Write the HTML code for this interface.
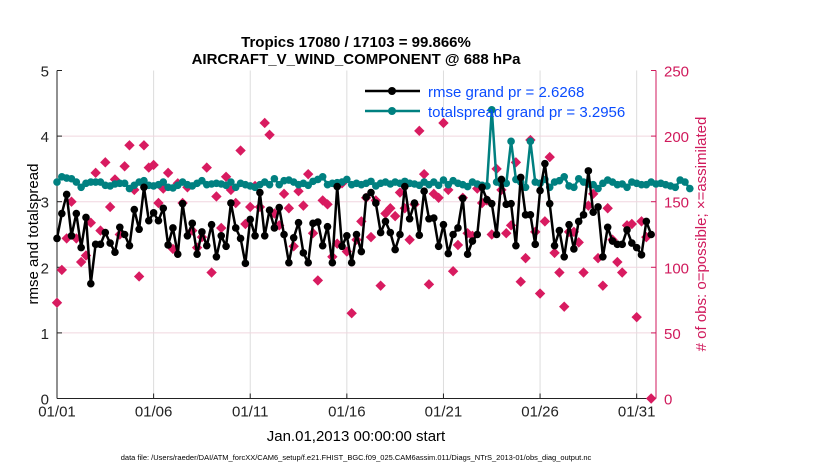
<!DOCTYPE html>
<html><head><meta charset="utf-8"><style>
body{margin:0;background:#fff;}
svg{display:block;font-family:"Liberation Sans",sans-serif;}
</style></head><body>
<svg id="chart" width="830" height="470" viewBox="0 0 830 470">
<rect width="830" height="470" fill="#fff"/>
<text x="356" y="47" text-anchor="middle" font-size="15" font-weight="bold">Tropics 17080 / 17103 = 99.866%</text>
<text x="356" y="64" text-anchor="middle" font-size="15" font-weight="bold">AIRCRAFT_V_WIND_COMPONENT @ 688 hPa</text>
<g id="grid"></g>
<g id="axes"></g>
<g id="marks"></g>
<g id="legend">
 <line x1="365" y1="91" x2="420" y2="91" stroke="#000" stroke-width="2.5"/>
 <circle cx="392" cy="91" r="4" fill="#000"/>
 <text x="428" y="97" font-size="15" fill="#0a4cff">rmse grand pr = 2.6268</text>
 <line x1="365" y1="111" x2="420" y2="111" stroke="#008080" stroke-width="2.5"/>
 <circle cx="392" cy="111" r="4" fill="#008080"/>
 <text x="428" y="117" font-size="15" fill="#0a4cff">totalspread grand pr = 3.2956</text>
</g>
<text transform="translate(38,234) rotate(-90)" text-anchor="middle" font-size="15">rmse and totalspread</text>
<text transform="translate(706,234) rotate(-90)" text-anchor="middle" font-size="15" fill="#d01a5c"># of obs: o=possible; ×=assimilated</text>
<text x="356" y="441" text-anchor="middle" font-size="15">Jan.01,2013 00:00:00 start</text>
<text x="356" y="460" text-anchor="middle" font-size="7.5">data file: /Users/raeder/DAI/ATM_forcXX/CAM6_setup/f.e21.FHIST_BGC.f09_025.CAM6assim.011/Diags_NTrS_2013-01/obs_diag_output.nc</text>
</svg>
<script>
const rmse=[2.44,2.82,3.11,2.48,2.82,2.3,2.76,1.75,2.35,2.35,2.53,2.37,2.23,2.61,2.5,2.33,2.88,2.58,3.22,2.71,2.83,2.71,2.9,2.34,2.6,2.2,2.97,2.48,2.67,2.2,2.54,2.33,
2.65,2.16,2.48,2.32,2.98,2.6,2.44,2.06,2.73,2.48,3.14,2.48,2.87,2.6,2.91,2.5,2.07,2.45,2.68,2.22,2.07,2.67,2.69,2.33,2.62,2.07,3.23,2.32,2.48,2.07,2.5,
2.24,3.07,3.14,2.98,2.53,2.7,2.53,2.27,2.5,3.23,2.74,2.98,2.49,3.16,2.74,2.75,2.32,2.65,2.21,2.5,2.6,3.05,2.2,2.4,2.5,3.22,3.03,2.97,2.5,3.34,2.96,
2.97,2.33,3.37,2.8,2.8,2.35,3.17,3.58,2.97,2.33,2.56,2.16,2.65,2.28,2.7,2.8,3.47,2.84,2.92,2.16,2.61,2.4,2.35,2.35,2.57,2.37,2.3,2.19,2.7,2.5];
const spread=[3.3,3.38,3.36,3.35,3.3,3.22,3.28,3.3,3.3,3.3,3.25,3.24,3.27,3.28,3.28,3.2,3.25,3.3,3.32,3.25,3.24,3.26,3.3,3.22,3.21,3.25,3.3,3.26,3.24,3.28,3.32,3.26,
3.27,3.28,3.27,3.25,3.3,3.22,3.28,3.26,3.24,3.22,3.26,3.3,3.26,3.35,3.26,3.32,3.33,3.3,3.26,3.28,3.25,3.31,3.34,3.38,3.26,3.28,3.29,3.3,3.34,3.26,3.28,
3.26,3.28,3.31,3.24,3.28,3.3,3.27,3.3,3.28,3.31,3.28,3.27,3.25,3.3,3.26,3.3,3.25,3.33,3.26,3.32,3.28,3.26,3.23,3.3,3.27,3.25,3.24,4.4,3.3,3.27,3.28,3.92,3.34,
3.3,3.22,3.92,3.3,3.28,3.34,3.22,3.3,3.32,3.38,3.24,3.22,3.35,3.3,3.27,3.26,3.2,3.28,3.33,3.3,3.26,3.27,3.22,3.3,3.28,3.26,3.26,3.3,3.27,3.28,3.26,3.24,3.22,3.33,3.3,3.2];
const obs=[73,98,122,150,122,104,109,134,172,128,180,146,167,125,177,193,159,93,193,176,178,149,160,172,114,164,149,161,128,115,123,176,
96,154,130,169,159,149,189,133,146,162,146,210,201,141,132,156,145,116,158,147,171,126,90,151,148,108,118,164,112,65,121,
135,153,123,151,86,141,145,139,157,145,121,148,204,171,87,156,153,210,159,97,117,153,126,124,160,149,151,125,175,159,126,
132,180,89,107,197,127,80,135,184,111,96,70,127,127,119,96,147,156,107,86,145,121,104,96,132,133,62,135,123,0];
const leftTicks=[0,1,2,3,4,5];
const rightTicks=[0,50,100,150,200,250];
const dateTicks=["01/01","01/06","01/11","01/16","01/21","01/26","01/31"];
const dateTickDays=[0,5,10,15,20,25,30];

const X0=57,X1=656,Y0=398.5,Y1=70.5,DAYS=31;
const xs=d=>X0+(X1-X0)*d/DAYS;
const yL=v=>Y0-(Y0-Y1)*v/5;
const yR=v=>Y0-(Y0-Y1)*v/250;
const NS="http://www.w3.org/2000/svg";
function mk(tag,attrs,parent){const e=document.createElementNS(NS,tag);for(const k in attrs)e.setAttribute(k,attrs[k]);parent.appendChild(e);return e;}
const grid=document.getElementById('grid'),axes=document.getElementById('axes'),marks=document.getElementById('marks');

dateTickDays.forEach((d,i)=>{
  const l=mk('line',{x1:xs(d),x2:xs(d),y1:Y1,y2:Y0,stroke:'#dcdcdc','stroke-width':1},grid);
  
  
  mk('line',{x1:xs(d),x2:xs(d),y1:Y0,y2:Y0-5,stroke:'#222'},axes);
  const t=mk('text',{x:xs(d),y:Y0+18,'text-anchor':'middle','font-size':15,fill:'#222'},axes);
  t.textContent=dateTicks[i];
  
  
});
leftTicks.forEach(v=>{
  if(v>0&&v<5){const g=mk('line',{x1:X0,x2:X1,y1:yL(v),y2:yL(v),stroke:'#f0d6df','stroke-width':1},grid);
  
  }
  mk('line',{x1:X0,x2:X0+5,y1:yL(v),y2:yL(v),stroke:'#222'},axes);
  const t=mk('text',{x:X0-8,y:yL(v)+6,'text-anchor':'end','font-size':15,fill:'#222'},axes);
  t.textContent=v;
  
  
});
rightTicks.forEach(v=>{
  mk('line',{x1:X1,x2:X1-5,y1:yR(v),y2:yR(v),stroke:'#d01a5c'},axes);
  const t=mk('text',{x:X1+8,y:yR(v)+6,'font-size':15,fill:'#d01a5c'},axes);
  t.textContent=v;
  
  
});
mk('line',{x1:X0,x2:X0,y1:Y1,y2:Y0,stroke:'#222'},axes);
mk('line',{x1:X0,x2:X1,y1:Y0,y2:Y0,stroke:'#222'},axes);
mk('line',{x1:X1,x2:X1,y1:Y1,y2:Y0,stroke:'#d01a5c'},axes);

obs.forEach((v,i)=>{
  const x=xs(i*0.25),y=yR(v),r=5.2;
  const p=mk('polygon',{points:`${x},${y-r} ${x+r},${y} ${x},${y+r} ${x-r},${y}`,fill:'#d81b60'},marks);
  
  
});
function series(arr,color,name){
  const pts=arr.map((v,i)=>xs(i*0.25).toFixed(1)+','+yL(v).toFixed(1)).join(' ');
  const pl=mk('polyline',{points:pts,fill:'none',stroke:color,'stroke-width':2.5,'stroke-linejoin':'round'},marks);
  
  
  arr.forEach((v,i)=>{
    const c=mk('circle',{cx:xs(i*0.25),cy:yL(v),r:3.8,fill:color},marks);
    
    
  });
}
series(spread,'#008080','totalspread');
series(rmse,'#000000','rmse');
</script>
</body></html>
